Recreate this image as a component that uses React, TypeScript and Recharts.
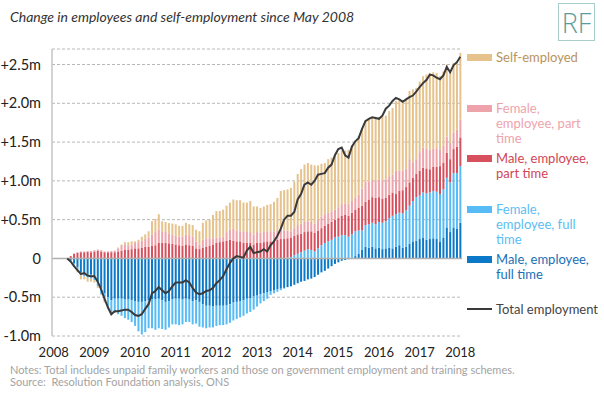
import React from 'react';
import { ComposedChart, Bar, Line, XAxis, YAxis, CartesianGrid, ReferenceLine } from 'recharts';

const FONT = "Lato, 'Open Sans', 'DejaVu Sans', sans-serif";

const years = ['2008', '2009', '2010', '2011', '2012', '2013', '2014', '2015', '2016', '2017', '2018'];
const monthNums = ['01', '02', '03', '04', '05', '06', '07', '08', '09', '10', '11', '12'];
const yearTicks = years.map((y) => `${y}-01`);
const yTicks = [-1000, -500, 0, 500, 1000, 1500, 2000, 2500];

// thousands, Jan 2008 .. Jan 2018 (data from May 2008)
const maleFullTime = [
  null, null, null, null, 0, -20, -60, -110, -180, -190, -200, -210,
  -230, -300, -380, -450, -500, -540, -520, -520, -520, -530, -530, -540,
  -550, -560, -560, -550, -540, -530, -530, -520, -540, -560, -550, -530,
  -520, -520, -530, -520, -530, -550, -540, -560, -590, -610, -610, -620,
  -610, -610, -610, -600, -590, -570, -560, -550, -540, -520, -510, -490,
  -480, -460, -450, -440, -420, -410, -400, -390, -380, -370, -360, -340,
  -320, -300, -290, -270, -260, -240, -210, -180, -160, -130, -100, -70,
  -50, -30, -20, -10, 10, 30, 60, 110, 150, 140, 150, 130,
  140, 120, 130, 140, 130, 150, 170, 140, 150, 190, 220, 230,
  250, 270, 240, 250, 260, 250, 220, 270, 400, 340, 400, 380,
  460,
];
const femaleFullTime = [
  null, null, null, null, 0, -10, -20, -30, -40, -40, -50, -50,
  -50, -60, -80, -100, -120, -160, -180, -200, -220, -240, -260, -280,
  -320, -380, -420, -400, -360, -370, -390, -380, -370, -360, -340, -320,
  -330, -340, -320, -300, -290, -300, -300, -320, -300, -290, -280, -270,
  -260, -250, -250, -250, -240, -230, -220, -210, -200, -190, -180, -170,
  -140, -120, -100, -80, -50, -40, -30, -20, -10, 10, 20, 40,
  60, 80, 100, 120, 110, 90, 130, 170, 200, 220, 240, 270,
  280, 300, 300, 280, 300, 320, 300, 250, 280, 300, 310, 310,
  330, 340, 350, 380, 420, 420, 420, 440, 470, 490, 520, 560,
  560, 580, 600, 600, 610, 610, 610, 620, 640, 640, 700, 720,
  730,
];
const malePartTime = [
  null, null, null, null, 0, 30, 60, 70, 80, 80, 85, 80,
  90, 100, 90, 80, 80, 80, 80, 90, 100, 110, 110, 120,
  130, 130, 140, 150, 150, 160, 170, 200, 200, 200, 195, 190,
  180, 170, 160, 180, 170, 160, 130, 120, 140, 150, 160, 180,
  200, 210, 220, 230, 240, 230, 220, 220, 200, 200, 200, 180,
  200, 200, 210, 220, 220, 230, 240, 250, 250, 250, 250, 250,
  250, 240, 240, 230, 240, 240, 230, 220, 220, 230, 230, 230,
  240, 250, 260, 270, 280, 280, 290, 320, 300, 320, 330, 340,
  320, 310, 300, 300, 300, 260, 280, 300, 300, 300, 300, 300,
  320, 320, 320, 300, 310, 320, 360, 340, 320, 300, 310, 340,
  370,
];
const femalePartTime = [
  null, null, null, null, 0, 0, 5, 10, 10, 10, 10, 15,
  15, 15, 15, 10, 10, 15, 20, 40, 60, 70, 60, 60,
  70, 80, 90, 100, 120, 150, 170, 170, 150, 140, 130, 120,
  110, 110, 120, 130, 130, 120, 90, 60, 100, 110, 100, 80,
  70, 60, 60, 110, 130, 150, 140, 130, 150, 140, 140, 130,
  140, 130, 130, 130, 130, 120, 120, 120, 110, 100, 80, 100,
  120, 130, 130, 130, 120, 120, 140, 150, 150, 140, 130, 130,
  140, 150, 150, 150, 150, 150, 170, 220, 260, 230, 220, 220,
  230, 240, 240, 230, 230, 300, 260, 250, 240, 300, 200, 190,
  240, 260, 260, 250, 240, 240, 210, 220, 210, 210, 210, 220,
  230,
];
const selfEmployed = [
  null, null, null, null, 0, 0, -20, -40, -50, -40, -50, -40,
  -30, -20, -10, -20, -30, -20, 0, 10, 20, 30, 40, 40,
  20, 30, 50, 60, 80, 170, 170, 200, 130, 130, 130, 140,
  150, 140, 140, 150, 140, 150, 150, 170, 220, 230, 240, 300,
  340, 340, 350, 340, 350, 380, 390, 400, 370, 380, 400, 360,
  330, 320, 330, 340, 350, 380, 420, 500, 520, 530, 560, 600,
  660, 700, 740, 750, 740, 750, 700, 680, 660, 690, 700, 710,
  700, 690, 680, 700, 720, 730, 760, 780, 790, 800, 800, 800,
  800, 820, 820, 850, 860, 900, 920, 900, 900, 880, 940, 920,
  910, 920, 950, 990, 980, 970, 950, 960, 930, 910, 900, 880,
  860,
];
const totalEmployment = [
  null, null, null, null, 0, -40, -100, -150, -200, -190, -220, -230,
  -230, -300, -400, -520, -630, -720, -680, -680, -670, -660, -660, -690,
  -730, -740, -720, -650, -590, -450, -420, -370, -410, -450, -420, -360,
  -310, -310, -310, -280, -310, -380, -440, -460, -450, -420, -410, -380,
  -320, -280, -230, -140, -60, 0, 30, 20, 10, 100, 150, 70,
  80, 90, 120, 90, 170, 220, 290, 380, 500, 550, 550, 600,
  760, 830, 950, 980, 950, 1000, 1080, 1090, 1100, 1170, 1210, 1330,
  1410, 1430, 1330, 1300, 1440, 1510, 1550, 1670, 1770, 1800, 1820, 1810,
  1800, 1840, 1930, 1970, 2030, 2070, 2050, 2020, 2050, 2080, 2100, 2150,
  2210, 2260, 2300, 2370, 2360, 2330, 2310, 2360, 2470, 2400, 2490, 2530,
  2600,
];

const months: string[] = [];
years.forEach((y) => monthNums.forEach((m) => months.push(`${y}-${m}`)));
const monthCats = months.slice(0, maleFullTime.length);

const data = monthCats.map((m, i) => ({
  m,
  mft: maleFullTime[i],
  fft: femaleFullTime[i],
  mpt: malePartTime[i],
  fpt: femalePartTime[i],
  se: selfEmployed[i],
  total: totalEmployment[i],
}));

const C = {
  mft: '#0b78c8',
  fft: '#57bcf6',
  mpt: '#d7505e',
  fpt: '#eea3ab',
  se: '#e6c28d',
  total: '#3a3a3a',
};

const legendItems = [
  { key: 'se', lines: ['Self-employed'], color: C.se, text: '#b8935c', y: 57 },
  { key: 'fpt', lines: ['Female,', 'employee, part', 'time'], color: C.fpt, text: '#eea3ab', y: 108 },
  { key: 'mpt', lines: ['Male, employee,', 'part time'], color: C.mpt, text: '#d04655', y: 158 },
  { key: 'fft', lines: ['Female,', 'employee, full', 'time'], color: C.fft, text: '#5cbdf3', y: 209 },
  { key: 'mft', lines: ['Male, employee,', 'full time'], color: C.mft, text: '#1b6fb5', y: 259 },
];

const fmtY = (v: number) => {
  if (v === 0) return '0';
  const s = (Math.abs(v) / 1000).toFixed(1) + 'm';
  return v > 0 ? '+' + s : '-' + s;
};

export default function App() {
  return (
    <div style={{ position: 'absolute', left: 0, top: 0, width: 604, height: 397, background: '#fff', fontFamily: FONT }}>
      <div style={{ position: 'absolute', left: 10, top: 8, fontSize: 14, fontStyle: 'italic', color: '#333', lineHeight: '18px', whiteSpace: 'nowrap' }}>
        Change in employees and self-employment since May 2008
      </div>
      <div style={{ position: 'absolute', left: 558, top: 3, width: 35, height: 36, border: '1px solid #a9cccc', display: 'flex', alignItems: 'center', justifyContent: 'center', fontSize: 27, fontWeight: 300, color: '#5d9c9c', fontFamily: "'Open Sans', Lato, sans-serif" }}>
        RF
      </div>
      <ComposedChart
        width={604}
        height={397}
        data={data}
        stackOffset="sign"
        barCategoryGap="22%"
        margin={{ top: 49, right: 142, bottom: 31, left: 0 }}
      >
        <CartesianGrid vertical={false} stroke="#b8b8b8" strokeDasharray="3 2" />
        <XAxis
          dataKey="m"
          ticks={yearTicks}
          interval={0}
          tickFormatter={(v: string) => v.slice(0, 4)}
          axisLine={false}
          tickLine={false}
          tickSize={0}
          tickMargin={12}
          height={30}
          tick={{ fontSize: 13, fill: '#222', fontFamily: FONT }}
        />
        <YAxis
          type="number"
          domain={[-1000, 2700]}
          allowDataOverflow
          ticks={yTicks}
          interval={0}
          tickFormatter={fmtY}
          width={52}
          axisLine={{ stroke: '#c4c4c4', strokeWidth: 1.5 }}
          tickLine={false}
          tickSize={0}
          tickMargin={11}
          tick={{ fontSize: 14.5, fill: '#222', fontFamily: FONT }}
        />
        <ReferenceLine y={0} stroke="#b0b0b0" strokeWidth={1.5} />
        <Bar dataKey="mft" stackId="a" fill={C.mft} isAnimationActive={false} />
        <Bar dataKey="fft" stackId="a" fill={C.fft} isAnimationActive={false} />
        <Bar dataKey="mpt" stackId="a" fill={C.mpt} isAnimationActive={false} />
        <Bar dataKey="fpt" stackId="a" fill={C.fpt} isAnimationActive={false} />
        <Bar dataKey="se" stackId="a" fill={C.se} isAnimationActive={false} />
        <Line dataKey="total" type="linear" stroke={C.total} strokeWidth={2} dot={false} isAnimationActive={false} />
      </ComposedChart>
      {legendItems.map((it) => (
        <div key={it.key}>
          <div style={{ position: 'absolute', left: 467, top: it.y - 3.5, width: 25, height: 7, background: it.color }} />
          <div style={{ position: 'absolute', left: 496, top: it.y - 7.5, fontSize: 13, lineHeight: '15px', color: it.text, whiteSpace: 'nowrap' }}>
            {it.lines.map((l, j) => (
              <div key={j}>{l}</div>
            ))}
          </div>
        </div>
      ))}
      <div style={{ position: 'absolute', left: 467, top: 308, width: 25, height: 2, background: C.total }} />
      <div style={{ position: 'absolute', left: 496, top: 301.5, fontSize: 13, lineHeight: '15px', color: '#444', whiteSpace: 'nowrap' }}>
        Total employment
      </div>
      <div style={{ position: 'absolute', left: 10, top: 364, fontSize: 11, lineHeight: '12px', color: '#a3a3a3', whiteSpace: 'nowrap' }}>
        <div>Notes: Total includes unpaid family workers and those on government employment and training schemes.</div>
        <div>Source:&nbsp; Resolution Foundation analysis, ONS</div>
      </div>
    </div>
  );
}
